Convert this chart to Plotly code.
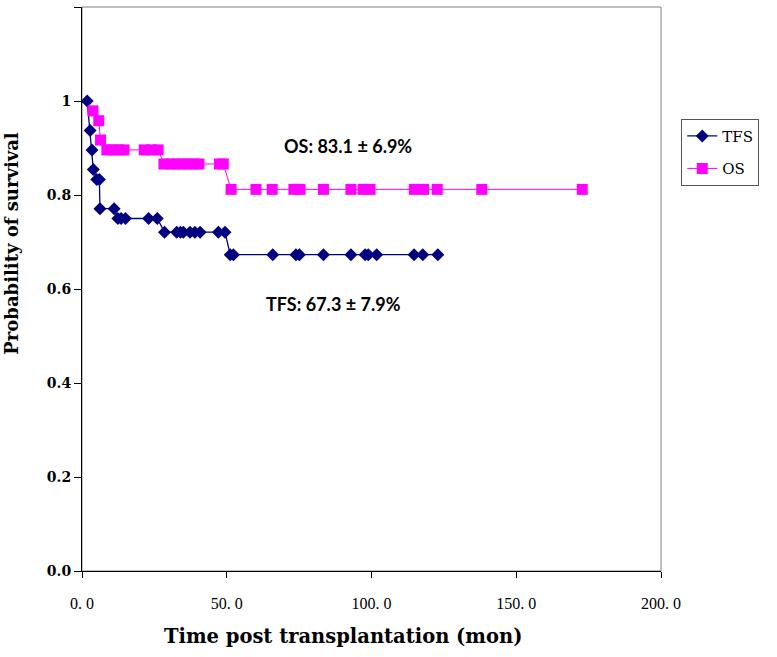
import plotly.graph_objects as go

# ---- data ----
tfs_time = [1.8, 2.8, 3.45, 3.9, 5.1, 6.0, 6.2, 11.1, 12.4, 13.5, 15.0, 23.0, 26.0,
            28.5, 32.7, 34.0, 35.0, 37.3, 39.0, 40.8, 47.1, 49.4,
            51.2, 52.3, 65.9, 73.9, 75.1, 83.4, 92.9, 97.8, 98.9, 101.8, 114.7, 117.7, 122.9]
tfs_surv = [1.0, 0.9375, 0.896, 0.854, 0.833, 0.833, 0.771, 0.771, 0.75, 0.75, 0.75, 0.75, 0.75,
            0.721, 0.721, 0.721, 0.721, 0.721, 0.721, 0.721, 0.721, 0.721,
            0.673, 0.673, 0.673, 0.673, 0.673, 0.673, 0.673, 0.673, 0.673, 0.673, 0.673, 0.673, 0.673]

os_time = [3.8, 5.8, 6.4, 8.6, 10.5, 12.5, 14.5, 21.5, 24.0, 26.3,
           28.3, 30.5, 32.5, 34.5, 36.5, 38.5, 40.4, 47.5, 48.8,
           51.5, 60.1, 65.7, 73.2, 75.3, 83.4, 92.9, 97.1, 99.5, 114.8, 118.0, 122.7, 138.1, 172.8]
os_surv = [0.979, 0.958, 0.917, 0.896, 0.896, 0.896, 0.896, 0.896, 0.896, 0.896,
           0.866, 0.866, 0.866, 0.866, 0.866, 0.866, 0.866, 0.866, 0.866,
           0.812, 0.812, 0.812, 0.812, 0.812, 0.812, 0.812, 0.812, 0.812, 0.812, 0.812, 0.812, 0.812, 0.812]

x_tickvals = [0, 50, 100, 150, 200]
x_ticktext = ["0. 0", "50. 0", "100. 0", "150. 0", "200. 0"]
y_tickvals = [0, 0.2, 0.4, 0.6, 0.8, 1.0, 1.2]
y_ticktext = ["0.0", "0.2", "0.4", "0.6", "0.8", "1", "1.2"]

fig = go.Figure()
fig.add_trace(go.Scatter(
    x=tfs_time, y=tfs_surv, name="TFS", mode="lines+markers", legendgroup="a",
    line=dict(color="#000080", width=1.3),
    marker=dict(symbol="diamond", size=10, color="#000080"),
))
fig.add_trace(go.Scatter(
    x=os_time, y=os_surv, name="OS", mode="lines+markers", legendgroup="b",
    line=dict(color="#FF00FF", width=1),
    marker=dict(symbol="square", size=11, color="#FF00FF"),
))

serif = "DejaVu Serif"
fig.update_layout(
    width=777, height=657,
    margin=dict(l=82, r=116, t=7, b=86),
    paper_bgcolor="white", plot_bgcolor="white",
    showlegend=True,
    legend=dict(x=1.035, y=0.802, xanchor="left", yanchor="top",
                bordercolor="#555555", borderwidth=1, bgcolor="white",
                font=dict(family=serif, size=15, color="black"),
                tracegroupgap=10),
    xaxis=dict(range=[0, 200], tickvals=x_tickvals, ticktext=x_ticktext,
               ticks="outside", ticklen=6, tickcolor="black",
               showline=True, linecolor="black", linewidth=1,
               showgrid=False, zeroline=False, ticklabelstandoff=12,
               tickfont=dict(family="Liberation Serif", size=16, color="black")),
    yaxis=dict(range=[0, 1.2], tickvals=y_tickvals, ticktext=y_ticktext,
               ticks="outside", ticklen=7, tickcolor="black",
               showline=True, linecolor="black", linewidth=1,
               showgrid=False, zeroline=False,
               tickfont=dict(family=serif, size=14, color="black", weight="bold")),
    shapes=[dict(type="rect", xref="paper", yref="paper", x0=0, x1=1, y0=0, y1=1,
                 line=dict(color="#808080", width=1), layer="below")],
    annotations=[
        dict(text="Probability of survival", textangle=-90, xref="paper", yref="paper",
             x=-0.121, y=0.582, xanchor="center", yanchor="middle", showarrow=False,
             font=dict(family=serif, size=18, color="black", weight="bold")),
        dict(text="Time post transplantation (mon)", xref="paper", yref="paper",
             x=0.451, y=-0.117, xanchor="center", yanchor="middle", showarrow=False,
             font=dict(family=serif, size=19.5, color="black", weight="bold")),
        dict(text="OS: 83.1 ± 6.9%", x=91.9, y=0.905, xref="x", yref="y",
             showarrow=False, font=dict(family="Lato", size=18, color="black", weight="bold")),
        dict(text="TFS: 67.3 ± 7.9%", x=87.0, y=0.569, xref="x", yref="y",
             showarrow=False, font=dict(family="Lato", size=18, color="black", weight="bold")),
    ],
)

fig.write_html("out.html")
